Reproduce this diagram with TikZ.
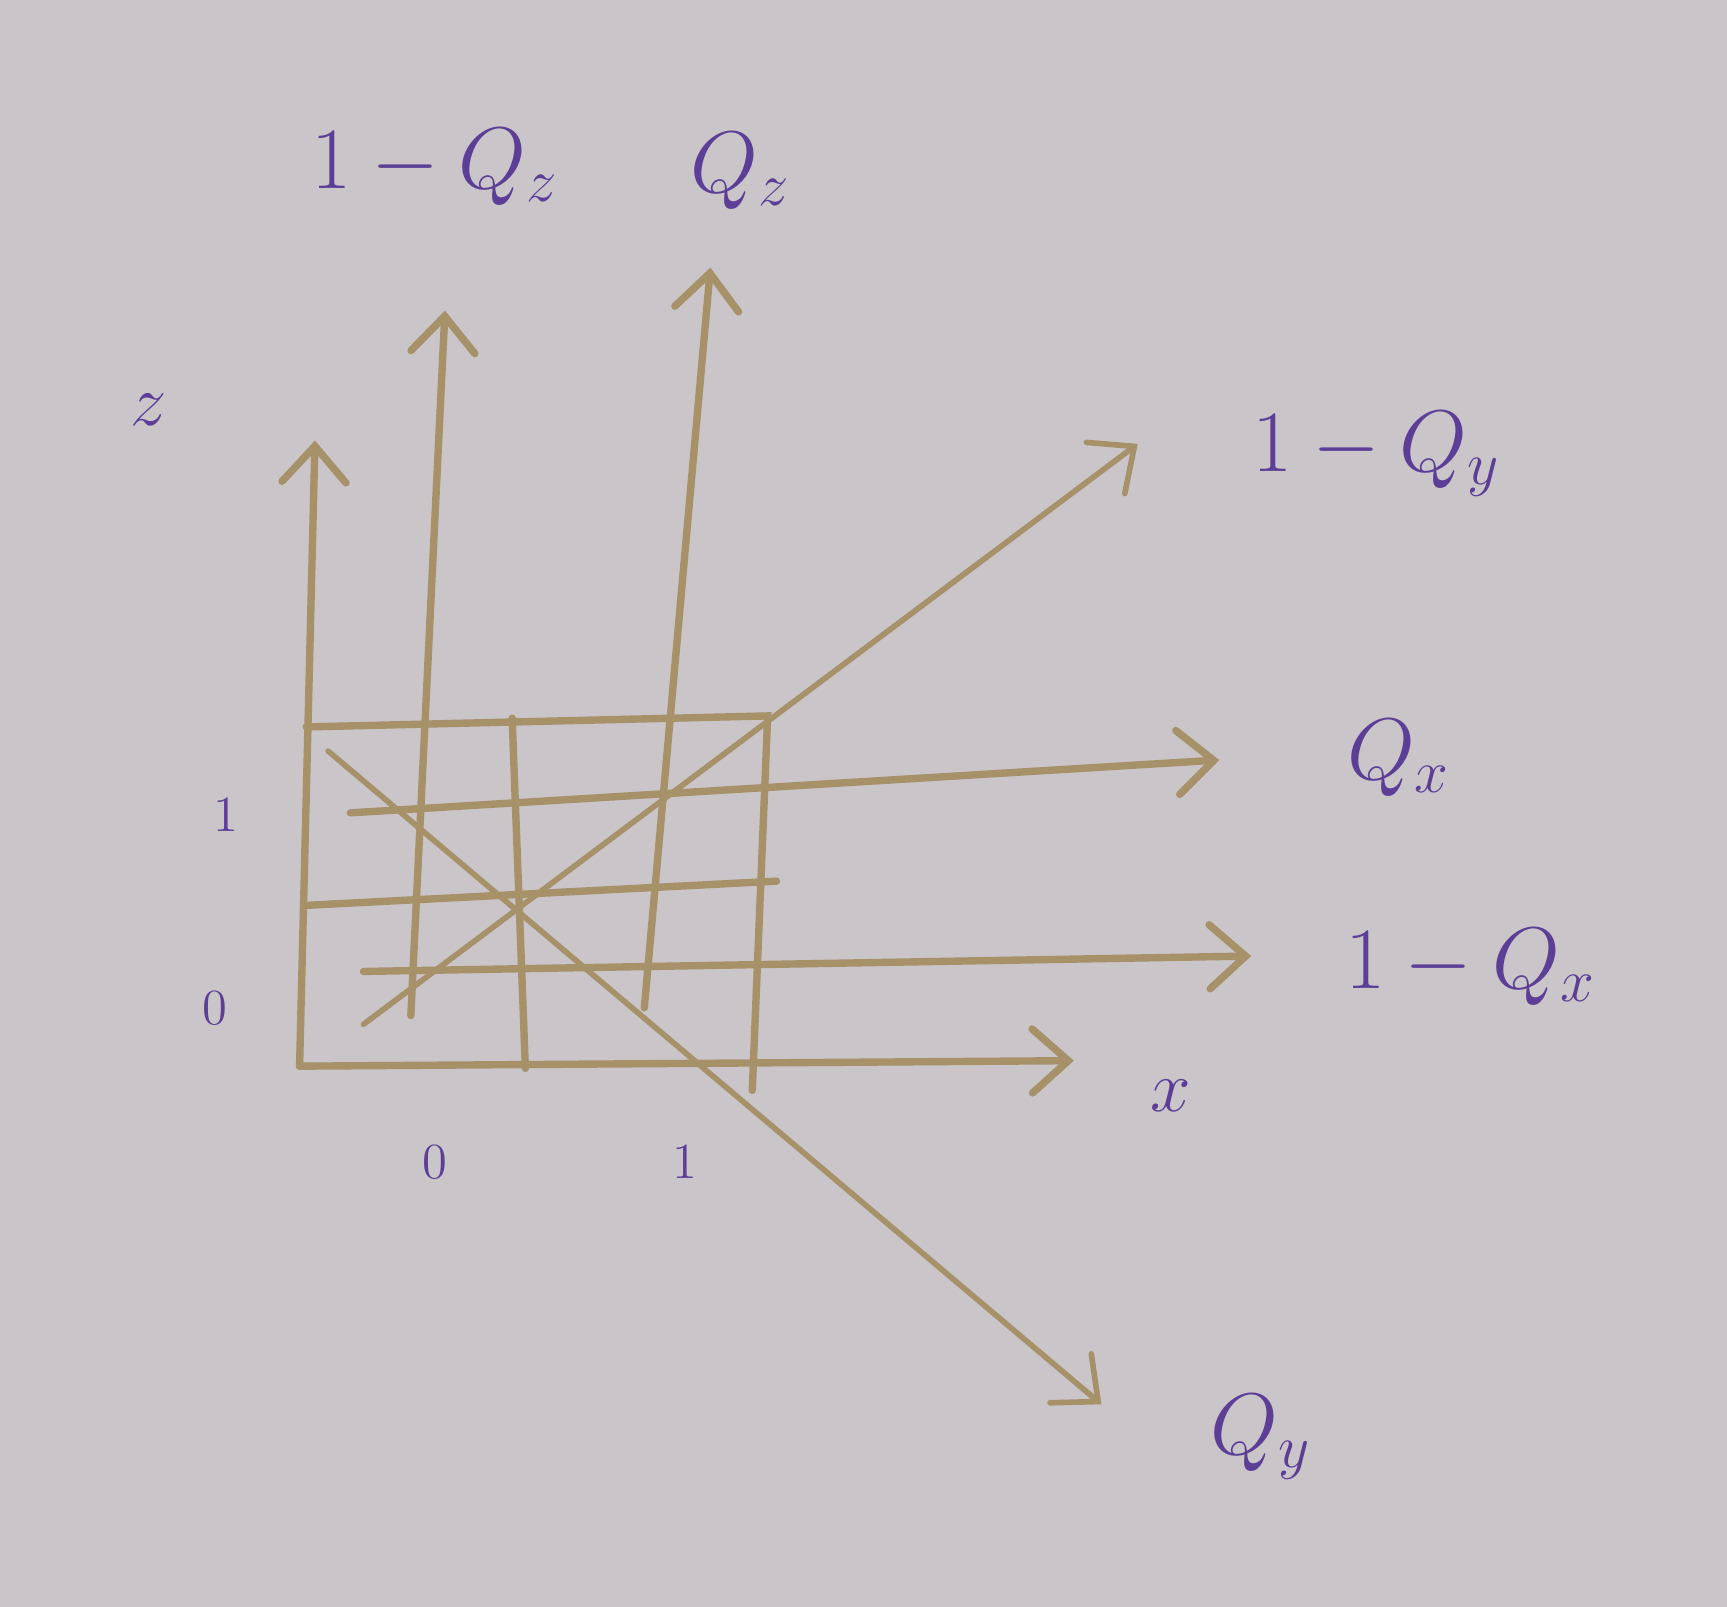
\documentclass[tikz,border=0pt]{standalone}
\usepackage{amsmath}
\usepackage{tikz}
\usetikzlibrary{arrows.meta, positioning}
\definecolor{paper}{RGB}{202,197,201}
\definecolor{pencil}{RGB}{167,145,105}
\definecolor{ink}{RGB}{92,62,150}

\begin{document}
\begin{tikzpicture}[x=0.11014mm,y=-0.11014mm,
    line/.style={pencil,line width=2.1pt,line cap=round},
    diag/.style={pencil,line width=1.6pt,line cap=round},
    tip/.style={-{Straight Barb[length=3.6mm,width=6.4mm,line cap=round]}},
    lab/.style={ink,font=\fontsize{25}{30}\selectfont},
    axlab/.style={ink,font=\fontsize{22}{26}\selectfont},
    tick/.style={ink,font=\fontsize{14}{16}\selectfont}]
  % paper
  \fill[paper] (0,0) rectangle (1568,1459);
  \useasboundingbox (0,0) rectangle (1568,1459);
  % corner points
  \coordinate (orig) at (272,968);
  \coordinate (ztip) at (286,400);
  \coordinate (xtip) at (975,963);
  \coordinate (tl) at (278,660);
  \coordinate (tr) at (697,650);
  \coordinate (br) at (683,990);
  \coordinate (mt) at (465,652);
  \coordinate (mb) at (477,970);
  \coordinate (ml) at (278,822);
  \coordinate (mr) at (705,800);
  % z and x axes
  \draw[line,tip] (orig) -- (ztip);
  \draw[line,tip] (orig) -- (xtip);
  % grid
  \draw[line] (tl) -- (tr) -- (br);
  \draw[line] (mt) -- (mb);
  \draw[line] (ml) -- (mr);
  % shifted axes
  \coordinate (qz0) at (373,922);  \coordinate (qz1) at (404,282);
  \coordinate (pz0) at (585,915);  \coordinate (pz1) at (645,243);
  \coordinate (px0) at (318,738);  \coordinate (px1) at (1107,690);
  \coordinate (qx0) at (330,882);  \coordinate (qx1) at (1136,868);
  \coordinate (qy0) at (330,930);  \coordinate (qy1) at (1033,403);
  \coordinate (py0) at (298,682);  \coordinate (py1) at (1000,1275);
  \draw[line,tip] (qz0) -- (qz1);
  \draw[line,tip] (pz0) -- (pz1);
  \draw[line,tip] (px0) -- (px1);
  \draw[line,tip] (qx0) -- (qx1);
  \draw[diag,tip] (qy0) -- (qy1);
  \draw[diag,tip] (py0) -- (py1);
  % labels
  \node[axlab] (zlab) at (135,372) {$z$};
  \node[axlab] (xlab) at (1063,995) {$x$};
  \node[lab] (qzlab) at (395,152) {$1-Q_z$};
  \node[lab] (pzlab) at (672,155) {$Q_z$};
  \node[lab] (qylab) at (1250,412) {$1-Q_y$};
  \node[lab] (pxlab) at (1270,688) {$Q_x$};
  \node[lab] (qxlab) at (1335,878) {$1-Q_x$};
  \node[lab] (pylab) at (1145,1305) {$Q_y$};
  % ticks
  \node[tick] (z1) at (205,740) {$1$};
  \node[tick] (z0) at (195,915) {$0$};
  \node[tick] (x0) at (395,1055) {$0$};
  \node[tick] (x1) at (622,1055) {$1$};
\end{tikzpicture}
\end{document}
